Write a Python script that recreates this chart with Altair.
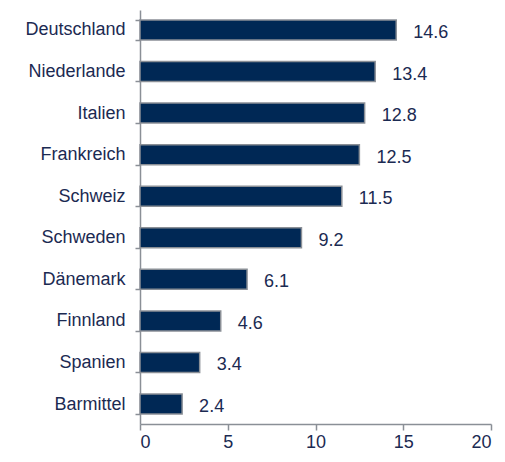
import altair as alt
import pandas as pd

countries = ["Deutschland", "Niederlande", "Italien", "Frankreich", "Schweiz",
             "Schweden", "Dänemark", "Finnland", "Spanien", "Barmittel"]
values = [14.6, 13.4, 12.8, 12.5, 11.5, 9.2, 6.1, 4.6, 3.4, 2.4]
x_ticks = [0, 5, 10, 15, 20]

df = pd.DataFrame({"country": countries, "value": values})
df["label"] = df["value"].map(lambda v: f"{v:.1f}")

navy = "#002855"
txt = "#1b2a52"
grey = "#8a8f96"
font = "Liberation Sans"
fs = 18

y_enc = alt.Y("country:N", sort=countries, title=None,
              scale=alt.Scale(paddingInner=0.52, paddingOuter=0.24),
              axis=alt.Axis(domainColor=grey, domainWidth=1.5, tickColor=grey,
                            tickWidth=1.5, tickSize=5, tickBand="extent",
                            labelFont=font, labelFontSize=fs, labelColor=txt,
                            labelPadding=10))
x_enc = alt.X("value:Q", title=None,
              scale=alt.Scale(domain=[0, 20], nice=False),
              axis=alt.Axis(values=x_ticks, grid=False, domainColor=grey,
                            domainWidth=1.5, tickColor=grey, tickWidth=1.5,
                            tickSize=6, labelFont=font, labelFontSize=fs,
                            labelColor=txt, labelPadding=3))

bars = alt.Chart(df).mark_bar(color=navy, stroke=grey, strokeWidth=1.5).encode(
    x=x_enc, y=y_enc)

labels = alt.Chart(df).mark_text(align="left", baseline="middle", dx=17, dy=3,
                                 font=font, fontSize=fs, color=txt).encode(
    x="value:Q", y=alt.Y("country:N", sort=countries), text="label:N")

chart = (bars + labels).properties(
    width=351, height=414,
    background="white",
    autosize=alt.AutoSizeParams(type="none"),
    padding={"left": 132, "top": 2, "right": 4, "bottom": 28},
).configure_view(strokeWidth=0)

chart.save("out.html", embed_options={"renderer": "svg", "actions": False})
